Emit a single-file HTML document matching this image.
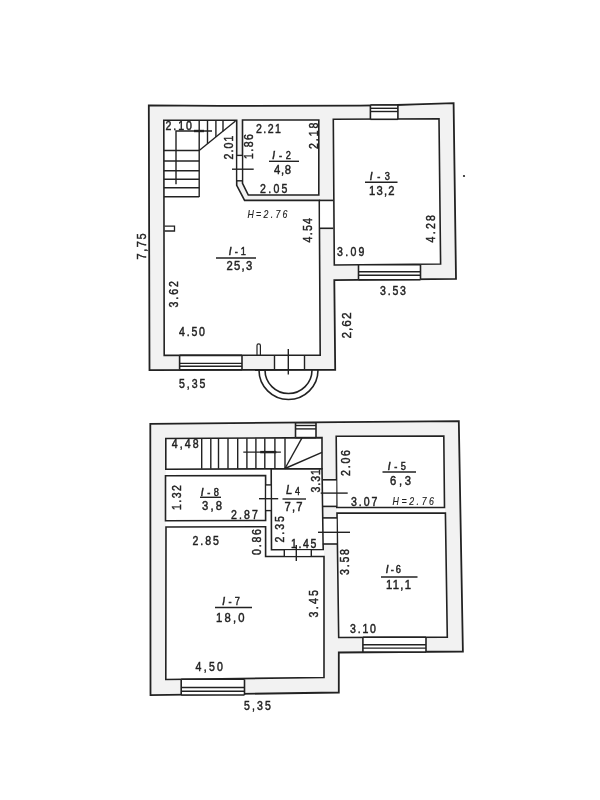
<!DOCTYPE html>
<html><head><meta charset="utf-8"><title>Floor plan</title>
<style>
html,body{margin:0;padding:0;background:#ffffff;}
body{width:600px;height:800px;overflow:hidden;}
svg{display:block;filter:blur(0.35px);}
text{font-family:"Liberation Sans",sans-serif;fill:#222;stroke:#222;stroke-width:0.45px;}
</style></head>
<body>
<svg width="600" height="800" viewBox="0 0 600 800">
<rect x="0" y="0" width="600" height="800" fill="#ffffff"/>
<polygon points="148.8,105.3 220,105.9 360,105.6 397,105.0 415,104.3 453.6,103.2 456,278.8 334.3,280.2 335.2,369.8 149.5,370.2" fill="#f2f2f2" stroke="#222" stroke-width="1.8" stroke-linejoin="miter" />
<polygon points="163.8,120.2 236.7,120.2 236.7,185.4 244.6,200.4 319.3,200.4 320.2,355.2 164.2,355.4" fill="#ffffff" stroke="#222" stroke-width="1.6" stroke-linejoin="miter" />
<polygon points="242.5,120 318.8,120 318.8,195 248.3,195 242.5,183.3" fill="#ffffff" stroke="#222" stroke-width="1.6" stroke-linejoin="miter" />
<polygon points="333.3,119.3 439,118.8 440.6,264 334.3,265" fill="#ffffff" stroke="#222" stroke-width="1.6" stroke-linejoin="miter" />
<rect x="237.6" y="155.4" width="4.0" height="25.4" fill="#ffffff"/>
<line x1="236.7" y1="155.4" x2="242.5" y2="155.4" stroke="#222" stroke-width="1.4"/>
<line x1="236.7" y1="180.8" x2="242.5" y2="180.8" stroke="#222" stroke-width="1.4"/>
<line x1="232" y1="169.2" x2="253.7" y2="169.2" stroke="#222" stroke-width="1.4"/>
<rect x="320.2" y="201.3" width="12.3" height="27" fill="#ffffff"/>
<line x1="319.3" y1="200.4" x2="333.3" y2="200.4" stroke="#222" stroke-width="1.6"/>
<line x1="319.3" y1="228.3" x2="333.3" y2="228.3" stroke="#222" stroke-width="1.6"/>
<rect x="274.5" y="356.2" width="30" height="12.8" fill="#ffffff"/>
<line x1="274.5" y1="355.4" x2="274.5" y2="369.8" stroke="#222" stroke-width="1.4"/>
<line x1="304.5" y1="355.4" x2="304.5" y2="369.8" stroke="#222" stroke-width="1.4"/>
<line x1="288.3" y1="349" x2="288.3" y2="374.5" stroke="#222" stroke-width="1.4"/>
<path d="M257,355 V345.5 a1.7,1.7 0 0 1 3.4,0 V355" fill="none" stroke="#222" stroke-width="1.2"/>
<polyline points="164.5,226.2 174.5,226.2 174.5,231 164.5,231" fill="none" stroke="#222" stroke-width="1.3"/>
<path d="M259,370 A29.5,29.5 0 0 0 318,370" fill="none" stroke="#222" stroke-width="1.6"/>
<path d="M265,370 A23.5,23.5 0 0 0 312,370" fill="none" stroke="#222" stroke-width="1.6"/>
<rect x="370.4" y="105.0" width="27.5" height="14.299999999999997" fill="#ffffff"/>
<line x1="370.4" y1="105.0" x2="397.9" y2="105.0" stroke="#222" stroke-width="1.6"/>
<line x1="370.4" y1="119.3" x2="397.9" y2="119.3" stroke="#222" stroke-width="1.6"/>
<line x1="370.4" y1="108.3" x2="397.9" y2="108.3" stroke="#222" stroke-width="1.4"/>
<line x1="370.4" y1="111.5" x2="397.9" y2="111.5" stroke="#222" stroke-width="1.4"/>
<line x1="370.4" y1="105.0" x2="370.4" y2="119.3" stroke="#222" stroke-width="1.6"/>
<line x1="397.9" y1="105.0" x2="397.9" y2="119.3" stroke="#222" stroke-width="1.6"/>
<rect x="179.6" y="355.4" width="62.400000000000006" height="14.400000000000034" fill="#ffffff"/>
<line x1="179.6" y1="355.4" x2="242" y2="355.4" stroke="#222" stroke-width="1.6"/>
<line x1="179.6" y1="369.8" x2="242" y2="369.8" stroke="#222" stroke-width="1.6"/>
<line x1="179.6" y1="363.4" x2="242" y2="363.4" stroke="#222" stroke-width="1.4"/>
<line x1="179.6" y1="366.3" x2="242" y2="366.3" stroke="#222" stroke-width="1.4"/>
<line x1="179.6" y1="355.4" x2="179.6" y2="369.8" stroke="#222" stroke-width="1.6"/>
<line x1="242" y1="355.4" x2="242" y2="369.8" stroke="#222" stroke-width="1.6"/>
<rect x="358.5" y="264.8" width="62.0" height="14.899999999999977" fill="#ffffff"/>
<line x1="358.5" y1="264.8" x2="420.5" y2="264.8" stroke="#222" stroke-width="1.6"/>
<line x1="358.5" y1="279.7" x2="420.5" y2="279.7" stroke="#222" stroke-width="1.6"/>
<line x1="358.5" y1="275.2" x2="420.5" y2="275.2" stroke="#222" stroke-width="1.4"/>
<line x1="358.5" y1="271.8" x2="420.5" y2="271.8" stroke="#222" stroke-width="1.4"/>
<line x1="358.5" y1="264.8" x2="358.5" y2="279.7" stroke="#222" stroke-width="1.6"/>
<line x1="420.5" y1="264.8" x2="420.5" y2="279.7" stroke="#222" stroke-width="1.6"/>
<line x1="199.2" y1="120.2" x2="199.2" y2="197" stroke="#222" stroke-width="1.4"/>
<line x1="164" y1="150.5" x2="199.2" y2="150.5" stroke="#222" stroke-width="1.4"/>
<line x1="164" y1="161" x2="199.2" y2="161" stroke="#222" stroke-width="1.4"/>
<line x1="164" y1="170.7" x2="199.2" y2="170.7" stroke="#222" stroke-width="1.4"/>
<line x1="164" y1="179.3" x2="199.2" y2="179.3" stroke="#222" stroke-width="1.4"/>
<line x1="164" y1="187.7" x2="199.2" y2="187.7" stroke="#222" stroke-width="1.4"/>
<line x1="164" y1="196.7" x2="199.2" y2="196.7" stroke="#222" stroke-width="1.4"/>
<line x1="199.2" y1="150.5" x2="235.5" y2="121" stroke="#222" stroke-width="1.4"/>
<line x1="207.5" y1="120.2" x2="207.5" y2="143.7548209366391" stroke="#222" stroke-width="1.4"/>
<line x1="215.9" y1="120.2" x2="215.9" y2="136.92837465564736" stroke="#222" stroke-width="1.4"/>
<line x1="223" y1="120.2" x2="223" y2="131.15840220385675" stroke="#222" stroke-width="1.4"/>
<polyline points="176,184.2 176,131 212,131" fill="none" stroke="#222" stroke-width="1.4"/>
<line x1="194" y1="131" x2="204" y2="131" stroke="#222" stroke-width="2.4"/>
<polygon points="150.3,423.8 458.8,421.2 462.9,651.5 338.8,652.5 338.8,692.5 150.5,695.2" fill="#f2f2f2" stroke="#222" stroke-width="1.8" stroke-linejoin="miter" />
<rect x="165.8" y="468.6" width="105.4" height="58.4" fill="#ffffff"/>
<rect x="265.6" y="468.6" width="5.6" height="88" fill="#ffffff"/>
<rect x="265.6" y="549.5" width="58.4" height="7.2" fill="#ffffff"/>
<rect x="337" y="507.3" width="108" height="6" fill="#ffffff"/>
<polygon points="165.8,438.5 322,437.6 322,468.6 165.8,469.2" fill="#ffffff" stroke="#222" stroke-width="1.6" stroke-linejoin="miter" />
<polygon points="165.5,475.8 265.6,475.6 265.6,520.4 165.5,520.8" fill="#ffffff" stroke="#222" stroke-width="1.6" stroke-linejoin="miter" />
<polygon points="271.2,469 322,468.8 323.2,549.5 271.5,549.8" fill="#ffffff" stroke="#222" stroke-width="1.6" stroke-linejoin="miter" />
<polygon points="166,527 265.6,526.7 265.6,556.5 324,556.5 324,677.5 165.8,679.5" fill="#ffffff" stroke="#222" stroke-width="1.6" stroke-linejoin="miter" />
<polygon points="336.2,436.2 443.8,436 444.5,507.5 336.8,507.5" fill="#ffffff" stroke="#222" stroke-width="1.6" stroke-linejoin="miter" />
<polygon points="337,513.1 445.4,513 447.3,637.1 338.7,637.5" fill="#ffffff" stroke="#222" stroke-width="1.6" stroke-linejoin="miter" />
<rect x="266.4" y="484.9" width="4.0" height="25.7" fill="#ffffff"/>
<line x1="265.6" y1="484.9" x2="271.2" y2="484.9" stroke="#222" stroke-width="1.4"/>
<line x1="265.6" y1="510.6" x2="271.2" y2="510.6" stroke="#222" stroke-width="1.4"/>
<line x1="259" y1="498.7" x2="278.2" y2="498.7" stroke="#222" stroke-width="1.4"/>
<rect x="323.7" y="479.8" width="12.6" height="26.6" fill="#ffffff"/>
<rect x="323.9" y="517.9" width="12.6" height="26.1" fill="#ffffff"/>
<line x1="322.8" y1="479.8" x2="337" y2="479.8" stroke="#222" stroke-width="1.6"/>
<line x1="322.8" y1="506.4" x2="337" y2="506.4" stroke="#222" stroke-width="1.6"/>
<line x1="322.8" y1="517.9" x2="337" y2="517.9" stroke="#222" stroke-width="1.6"/>
<line x1="322.8" y1="544" x2="337" y2="544" stroke="#222" stroke-width="1.6"/>
<line x1="320.7" y1="493.1" x2="347.7" y2="493.1" stroke="#222" stroke-width="1.4"/>
<line x1="318" y1="532.3" x2="350" y2="532.3" stroke="#222" stroke-width="1.4"/>
<rect x="284.3" y="550.4" width="27" height="5.4" fill="#ffffff"/>
<line x1="284.3" y1="549.8" x2="284.3" y2="556.5" stroke="#222" stroke-width="1.4"/>
<line x1="311.3" y1="549.6" x2="311.3" y2="556.5" stroke="#222" stroke-width="1.4"/>
<line x1="296.3" y1="545" x2="296.3" y2="561" stroke="#222" stroke-width="1.4"/>
<rect x="295.5" y="422.8" width="20.5" height="14.800000000000011" fill="#ffffff"/>
<line x1="295.5" y1="422.8" x2="316" y2="422.8" stroke="#222" stroke-width="1.6"/>
<line x1="295.5" y1="437.6" x2="316" y2="437.6" stroke="#222" stroke-width="1.6"/>
<line x1="295.5" y1="425.5" x2="316" y2="425.5" stroke="#222" stroke-width="1.4"/>
<line x1="295.5" y1="428.9" x2="316" y2="428.9" stroke="#222" stroke-width="1.4"/>
<line x1="295.5" y1="422.8" x2="295.5" y2="437.6" stroke="#222" stroke-width="1.6"/>
<line x1="316" y1="422.8" x2="316" y2="437.6" stroke="#222" stroke-width="1.6"/>
<rect x="362.9" y="637.3" width="63.10000000000002" height="14.700000000000045" fill="#ffffff"/>
<line x1="362.9" y1="637.3" x2="426" y2="637.3" stroke="#222" stroke-width="1.6"/>
<line x1="362.9" y1="652" x2="426" y2="652" stroke="#222" stroke-width="1.6"/>
<line x1="362.9" y1="648.1" x2="426" y2="648.1" stroke="#222" stroke-width="1.4"/>
<line x1="362.9" y1="644.7" x2="426" y2="644.7" stroke="#222" stroke-width="1.4"/>
<line x1="362.9" y1="637.3" x2="362.9" y2="652" stroke="#222" stroke-width="1.6"/>
<line x1="426" y1="637.3" x2="426" y2="652" stroke="#222" stroke-width="1.6"/>
<rect x="181.2" y="679.3" width="63.30000000000001" height="15.700000000000045" fill="#ffffff"/>
<line x1="181.2" y1="679.3" x2="244.5" y2="679.3" stroke="#222" stroke-width="1.6"/>
<line x1="181.2" y1="695" x2="244.5" y2="695" stroke="#222" stroke-width="1.6"/>
<line x1="181.2" y1="691.2" x2="244.5" y2="691.2" stroke="#222" stroke-width="1.4"/>
<line x1="181.2" y1="687.5" x2="244.5" y2="687.5" stroke="#222" stroke-width="1.4"/>
<line x1="181.2" y1="679.3" x2="181.2" y2="695" stroke="#222" stroke-width="1.6"/>
<line x1="244.5" y1="679.3" x2="244.5" y2="695" stroke="#222" stroke-width="1.6"/>
<line x1="201.7" y1="438.3" x2="201.7" y2="468.8" stroke="#222" stroke-width="1.4"/>
<line x1="210.8" y1="438.3" x2="210.8" y2="468.8" stroke="#222" stroke-width="1.4"/>
<line x1="218.5" y1="438.3" x2="218.5" y2="468.8" stroke="#222" stroke-width="1.4"/>
<line x1="228" y1="438.3" x2="228" y2="468.8" stroke="#222" stroke-width="1.4"/>
<line x1="237.7" y1="438.3" x2="237.7" y2="468.8" stroke="#222" stroke-width="1.4"/>
<line x1="246.9" y1="438.3" x2="246.9" y2="468.8" stroke="#222" stroke-width="1.4"/>
<line x1="255.9" y1="438.3" x2="255.9" y2="468.8" stroke="#222" stroke-width="1.4"/>
<line x1="264.8" y1="438.3" x2="264.8" y2="468.8" stroke="#222" stroke-width="1.4"/>
<line x1="274.9" y1="438.3" x2="274.9" y2="468.8" stroke="#222" stroke-width="1.4"/>
<line x1="285" y1="438.3" x2="285" y2="468.8" stroke="#222" stroke-width="1.4"/>
<line x1="285" y1="468.5" x2="302" y2="437.8" stroke="#222" stroke-width="1.4"/>
<line x1="285" y1="468.5" x2="322" y2="452.3" stroke="#222" stroke-width="1.4"/>
<line x1="243.3" y1="452.1" x2="280.9" y2="452.1" stroke="#222" stroke-width="1.4"/>
<line x1="260.2" y1="452.1" x2="276.3" y2="452.1" stroke="#222" stroke-width="2.4"/>
<text transform="translate(165.5,130.3) scale(0.88,1)" font-size="12" textLength="29.89" lengthAdjust="spacing" >2.10</text>
<text transform="translate(256,132.5) scale(0.88,1)" font-size="12" textLength="28.41" lengthAdjust="spacing" >2.21</text>
<text transform="translate(260,192.5) scale(0.88,1)" font-size="12" textLength="31.25" lengthAdjust="spacing" >2.05</text>
<text transform="translate(272.5,159) scale(0.88,1)" font-size="10.5" textLength="21.02" lengthAdjust="spacing" ><tspan font-weight="bold">/</tspan>-2</text>
<line x1="269" y1="161.3" x2="299" y2="161.3" stroke="#222" stroke-width="1.4"/>
<text transform="translate(274,174) scale(0.88,1)" font-size="12.8" textLength="19.32" lengthAdjust="spacing" >4,8</text>
<text transform="translate(370,180) scale(0.88,1)" font-size="10.5" textLength="22.73" lengthAdjust="spacing" ><tspan font-weight="bold">/</tspan>-3</text>
<line x1="365" y1="182.3" x2="397.5" y2="182.3" stroke="#222" stroke-width="1.4"/>
<text transform="translate(369,195) scale(0.88,1)" font-size="12.8" textLength="28.98" lengthAdjust="spacing" >13,2</text>
<text transform="translate(229,255) scale(0.88,1)" font-size="10.5" textLength="19.32" lengthAdjust="spacing" ><tspan font-weight="bold">/</tspan>-1</text>
<line x1="216" y1="258" x2="256" y2="258" stroke="#222" stroke-width="1.5"/>
<text transform="translate(226.4,269.6) scale(0.88,1)" font-size="12.8" textLength="29.32" lengthAdjust="spacing" >25,3</text>
<text transform="translate(337,256) scale(0.88,1)" font-size="12" textLength="31.25" lengthAdjust="spacing" >3.09</text>
<text transform="translate(380,294.5) scale(0.88,1)" font-size="12" textLength="29.55" lengthAdjust="spacing" >3.53</text>
<text transform="translate(179,335.5) scale(0.88,1)" font-size="12" textLength="29.55" lengthAdjust="spacing" >4.50</text>
<text transform="translate(179,387.5) scale(0.88,1)" font-size="12" textLength="30.11" lengthAdjust="spacing" >5,35</text>
<text transform="translate(247.5,217.5) scale(0.88,1)" font-size="10" textLength="45.45" lengthAdjust="spacing" font-style="italic" style="stroke-width:0.15px">H=2.76</text>
<text transform="translate(233,159.5) rotate(-90) scale(0.88,1)" font-size="12" textLength="27.27" lengthAdjust="spacing">2.01</text>
<text transform="translate(252.8,159) rotate(-90) scale(0.88,1)" font-size="12" textLength="28.41" lengthAdjust="spacing">1.86</text>
<text transform="translate(317.5,149) rotate(-90) scale(0.88,1)" font-size="12" textLength="30.11" lengthAdjust="spacing">2.18</text>
<text transform="translate(312,242.5) rotate(-90) scale(0.88,1)" font-size="12" textLength="27.84" lengthAdjust="spacing">4.54</text>
<text transform="translate(435,242.5) rotate(-90) scale(0.88,1)" font-size="12" textLength="31.25" lengthAdjust="spacing">4.28</text>
<text transform="translate(145.6,259.5) rotate(-90) scale(0.88,1)" font-size="12.5" textLength="29.55" lengthAdjust="spacing">7,75</text>
<text transform="translate(178,307.5) rotate(-90) scale(0.88,1)" font-size="12" textLength="30.11" lengthAdjust="spacing">3.62</text>
<text transform="translate(350.8,338.5) rotate(-90) scale(0.88,1)" font-size="13.5" textLength="29.55" lengthAdjust="spacing">2,62</text>
<text transform="translate(171.7,448) scale(0.88,1)" font-size="12" textLength="30.68" lengthAdjust="spacing" >4,48</text>
<text transform="translate(201,495.5) scale(0.88,1)" font-size="10.5" textLength="20.45" lengthAdjust="spacing" ><tspan font-weight="bold">/</tspan>-8</text>
<line x1="200" y1="497.3" x2="221" y2="497.3" stroke="#222" stroke-width="1.4"/>
<text transform="translate(202,509.5) scale(0.88,1)" font-size="12.8" textLength="22.73" lengthAdjust="spacing" >3,8</text>
<text transform="translate(231,518.7) scale(0.88,1)" font-size="12" textLength="30.68" lengthAdjust="spacing" >2.87</text>
<text transform="translate(192.5,545) scale(0.88,1)" font-size="12" textLength="30.11" lengthAdjust="spacing" >2.85</text>
<text transform="translate(286,493.5) scale(0.88,1)" font-size="12" textLength="15.91" lengthAdjust="spacing" ><tspan font-style="italic" font-size="13">L</tspan><tspan font-size="10" dy="1.5">4</tspan></text>
<line x1="282.5" y1="499" x2="306" y2="499" stroke="#222" stroke-width="1.4"/>
<text transform="translate(284.5,511) scale(0.88,1)" font-size="12.8" textLength="20.45" lengthAdjust="spacing" >7,7</text>
<text transform="translate(291,547.5) scale(0.88,1)" font-size="12" textLength="28.98" lengthAdjust="spacing" >1.45</text>
<text transform="translate(388,469.5) scale(0.88,1)" font-size="10.5" textLength="20.45" lengthAdjust="spacing" ><tspan font-weight="bold">/</tspan>-5</text>
<line x1="382.5" y1="472" x2="416" y2="472" stroke="#222" stroke-width="1.4"/>
<text transform="translate(390,484.5) scale(0.88,1)" font-size="12.8" textLength="23.86" lengthAdjust="spacing" >6,3</text>
<text transform="translate(351,506) scale(0.88,1)" font-size="12" textLength="30.11" lengthAdjust="spacing" >3.07</text>
<text transform="translate(392.5,505) scale(0.88,1)" font-size="10" textLength="47.16" lengthAdjust="spacing" font-style="italic" style="stroke-width:0.15px">H=2.76</text>
<text transform="translate(386,572.5) scale(0.88,1)" font-size="10.5" textLength="17.05" lengthAdjust="spacing" ><tspan font-weight="bold">/</tspan>-6</text>
<line x1="381" y1="577" x2="417.5" y2="577" stroke="#222" stroke-width="1.4"/>
<text transform="translate(386,589) scale(0.88,1)" font-size="12.8" textLength="28.41" lengthAdjust="spacing" >11,1</text>
<text transform="translate(350,633) scale(0.88,1)" font-size="12" textLength="29.55" lengthAdjust="spacing" >3.10</text>
<text transform="translate(222.5,604.5) scale(0.88,1)" font-size="10.5" textLength="19.89" lengthAdjust="spacing" ><tspan font-weight="bold">/</tspan>-7</text>
<line x1="215" y1="607.5" x2="252" y2="607.5" stroke="#222" stroke-width="1.4"/>
<text transform="translate(216,622) scale(0.88,1)" font-size="12.8" textLength="32.39" lengthAdjust="spacing" >18,0</text>
<text transform="translate(195.5,671) scale(0.88,1)" font-size="12" textLength="31.25" lengthAdjust="spacing" >4,50</text>
<text transform="translate(244,709.5) scale(0.88,1)" font-size="12" textLength="30.68" lengthAdjust="spacing" >5,35</text>
<text transform="translate(181,510) rotate(-90) scale(0.88,1)" font-size="12" textLength="28.41" lengthAdjust="spacing">1.32</text>
<text transform="translate(261,555) rotate(-90) scale(0.88,1)" font-size="12" textLength="29.55" lengthAdjust="spacing">0.86</text>
<text transform="translate(319.6,492.5) rotate(-90) scale(0.88,1)" font-size="12" textLength="26.70" lengthAdjust="spacing">3.31</text>
<text transform="translate(284,542.5) rotate(-90) scale(0.88,1)" font-size="12" textLength="30.11" lengthAdjust="spacing">2.35</text>
<text transform="translate(350,476) rotate(-90) scale(0.88,1)" font-size="12" textLength="29.55" lengthAdjust="spacing">2.06</text>
<text transform="translate(349,575) rotate(-90) scale(0.88,1)" font-size="12" textLength="29.55" lengthAdjust="spacing">3.58</text>
<text transform="translate(318,617.5) rotate(-90) scale(0.88,1)" font-size="12" textLength="31.25" lengthAdjust="spacing">3.45</text>
<circle cx="464" cy="176" r="1.1" fill="#222"/>
</svg>
</body></html>
